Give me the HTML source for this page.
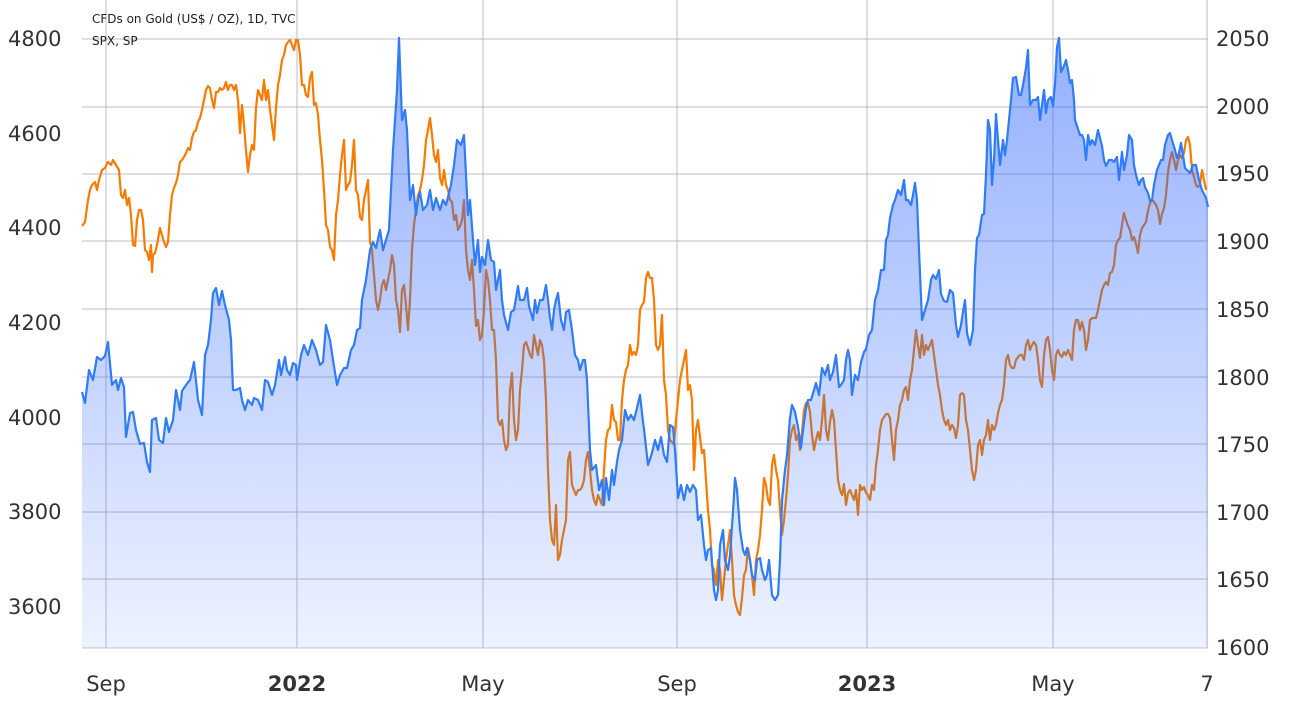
<!DOCTYPE html>
<html><head><meta charset="utf-8"><style>
body{margin:0;background:#fff;}
svg{display:block;font-family:"DejaVu Sans","Liberation Sans",sans-serif;}
</style></head><body>
<svg width="1304" height="710" viewBox="0 0 1304 710" xmlns="http://www.w3.org/2000/svg">
<defs>
<linearGradient id="ga" x1="0" y1="38" x2="0" y2="648" gradientUnits="userSpaceOnUse">
<stop offset="0" stop-color="#2962ff" stop-opacity="0.5"/>
<stop offset="1" stop-color="#2962ff" stop-opacity="0.08"/>
</linearGradient>
</defs>
<g stroke="#bcbcc2" stroke-width="1">
<line x1="82" y1="39" x2="1208" y2="39"/><line x1="82" y1="107" x2="1208" y2="107"/><line x1="82" y1="174" x2="1208" y2="174"/><line x1="82" y1="241" x2="1208" y2="241"/><line x1="82" y1="309" x2="1208" y2="309"/><line x1="82" y1="377" x2="1208" y2="377"/><line x1="82" y1="444" x2="1208" y2="444"/><line x1="82" y1="512" x2="1208" y2="512"/><line x1="82" y1="579" x2="1208" y2="579"/>
<line x1="106" y1="0" x2="106" y2="648"/><line x1="297" y1="0" x2="297" y2="648"/><line x1="483" y1="0" x2="483" y2="648"/><line x1="677" y1="0" x2="677" y2="648"/><line x1="867" y1="0" x2="867" y2="648"/><line x1="1053" y1="0" x2="1053" y2="648"/><line x1="1207" y1="0" x2="1207" y2="648"/>
</g>
<line x1="82" y1="648" x2="1208" y2="648" stroke="#c8c8cc"/>
<polyline fill="none" stroke="#f57c00" stroke-width="2.2" stroke-linejoin="round" points="82,226 85,222 88,200 90,190 92,185 95,182 97,190 99,180 102,170 105,168 108,162 111,165 113,160 116,165 119,170 121,195 123,198 125,190 127,205 129,198 131,215 133,245 135,246 137,220 139,210 141,210 143,220 145,250 147,252 149,260 151,245 152,272 153,255 155,253 157,245 160,228 162,235 164,242 166,247 168,242 170,215 172,195 174,188 176,183 178,175 180,162 182,160 184,157 186,153 188,148 190,150 192,138 194,132 196,130 198,122 200,118 202,110 204,100 206,90 208,86 210,88 212,100 214,108 216,92 218,92 220,88 222,90 224,88 226,82 228,90 230,85 232,85 234,90 236,85 238,100 240,133 242,105 244,125 246,150 248,172 250,155 252,145 254,150 256,108 258,90 260,95 262,100 264,80 266,100 268,90 270,110 272,125 274,140 276,108 278,85 280,75 282,60 284,55 286,45 288,42 290,40 292,45 294,50 296,40 298,40 300,55 302,85 304,85 306,95 308,97 310,78 312,72 314,105 316,103 318,115 320,140 322,160 324,190 326,225 328,230 330,247 332,250 334,260 336,215 338,200 340,175 342,155 344,140 346,190 348,185 350,182 352,165 354,140 356,190 358,195 360,217 362,220 364,200 366,190 368,180 370,242 372,250 374,275 376,300 378,310 380,300 382,285 384,280 386,290 388,280 390,270 392,255 394,265 396,300 398,310 400,332 402,290 404,285 406,305 408,330 410,300 412,250 414,225 416,210 418,195 420,190 422,180 424,165 426,140 428,130 430,118 432,135 434,155 436,162 438,150 440,178 442,185 444,170 446,185 448,190 450,200 452,202 454,220 456,215 458,230 460,226 462,220 464,200 466,250 468,270 470,280 472,260 474,290 476,326 478,320 480,340 482,335 484,310 486,270 488,280 490,300 492,330 494,330 496,360 498,420 500,425 502,420 504,440 506,450 508,445 510,390 512,373 514,420 516,440 518,430 520,390 522,370 524,345 526,342 528,348 530,355 532,358 534,335 536,345 538,355 540,340 542,345 544,360 546,400 548,470 550,520 552,540 554,545 556,505 558,560 560,555 562,540 564,530 566,520 568,460 570,452 572,485 574,490 576,495 578,490 580,490 582,487 584,480 586,460 588,452 590,470 592,490 594,500 596,505 598,495 600,500 602,505 604,470 606,440 608,430 610,428 612,405 614,420 616,422 618,440 620,440 622,400 624,380 626,370 628,365 630,345 632,355 634,352 636,355 638,345 640,310 642,305 644,302 646,278 648,272 650,278 652,278 654,300 656,345 658,350 660,345 662,315 664,380 666,395 668,430 670,440 672,442 674,445 676,420 678,400 680,380 682,370 684,360 686,350 688,390 690,385 692,400 694,470 696,430 698,420 700,437 702,453 704,450 706,480 708,510 710,530 712,565 714,570 716,585 718,560 720,570 722,600 724,580 726,560 728,545 730,530 732,560 734,595 736,605 738,612 740,615 742,598 744,575 746,570 748,548 750,560 752,575 754,595 756,560 758,550 760,535 762,510 764,478 766,485 768,500 770,505 772,465 774,455 776,470 778,480 780,510 782,535 784,520 786,500 788,475 790,440 792,430 794,425 796,440 798,435 800,450 802,432 804,410 806,403 808,403 810,412 812,435 814,450 816,440 818,432 820,440 822,420 824,395 826,430 828,440 830,422 832,410 834,420 836,450 838,480 840,490 842,495 844,484 846,505 848,493 850,490 852,495 854,500 856,490 858,515 860,485 862,490 864,487 866,493 868,495 870,500 872,485 874,490 876,465 878,450 880,430 882,420 884,417 886,414 888,414 890,418 892,440 894,460 896,430 898,420 900,405 902,400 904,390 906,387 908,400 910,380 912,370 914,350 916,330 918,345 920,358 922,335 924,355 926,345 928,350 930,345 932,340 934,355 936,370 938,385 940,395 942,410 944,420 946,425 948,420 950,430 952,425 954,428 956,438 958,425 960,395 962,393 964,395 966,420 968,430 970,450 972,470 974,480 976,470 978,445 980,440 982,455 984,440 986,435 988,420 990,440 992,425 994,430 996,425 998,413 1000,405 1002,400 1004,385 1006,360 1008,355 1010,365 1012,368 1014,368 1016,360 1018,357 1020,355 1022,355 1024,360 1026,345 1028,340 1030,350 1032,345 1034,342 1036,345 1038,360 1040,380 1042,387 1044,355 1046,340 1048,337 1050,350 1052,370 1054,380 1056,355 1058,350 1060,355 1062,357 1064,352 1066,355 1068,350 1070,355 1072,360 1074,330 1076,320 1078,320 1080,330 1082,322 1084,330 1086,350 1088,340 1090,320 1092,318 1094,318 1096,318 1098,310 1100,300 1102,290 1104,285 1106,282 1108,285 1110,273 1112,272 1114,265 1116,245 1118,240 1120,238 1122,225 1124,213 1126,220 1128,226 1130,230 1132,240 1134,237 1136,244 1138,253 1140,235 1142,228 1144,225 1146,222 1148,211 1150,203 1152,200 1154,202 1156,205 1158,210 1160,224 1162,214 1164,208 1166,195 1168,172 1170,160 1172,152 1174,160 1176,170 1178,160 1180,155 1182,158 1184,153 1186,140 1188,137 1190,145 1192,170 1194,177 1196,185 1198,187 1200,185 1202,170 1204,180 1206,190"/>
<path fill="url(#ga)" stroke="none" d="M82,392 L85,403 89,370 93,380 97,357 101,360 105,356 108,342 112,385 116,380 118,390 121,378 124,387 126,437 130,413 133,412 136,430 140,444 144,443 147,462 150,472 152,420 156,418 159,440 163,443 166,418 169,432 173,420 176,390 180,410 182,391 186,385 190,380 194,362 198,400 202,415 205,355 208,345 211,320 213,293 216,288 219,305 222,291 225,305 229,320 231,340 233,390 236,390 240,388 242,400 245,410 248,400 252,405 254,398 258,400 262,410 265,380 268,382 272,395 275,385 279,360 281,375 285,357 287,370 290,375 293,363 296,365 297,380 301,355 304,345 308,355 312,340 316,350 320,365 323,362 326,325 330,340 333,360 337,385 340,375 344,368 347,368 351,350 354,345 357,330 360,328 362,300 366,280 370,250 373,242 376,248 380,230 383,250 386,240 389,230 393,150 397,90 399,38 402,120 405,110 407,130 410,200 413,185 416,215 418,200 420,192 423,210 427,205 430,190 433,210 436,198 440,210 443,200 446,205 451,185 454,165 457,140 461,145 464,135 466,175 468,215 470,200 473,240 475,265 478,240 480,272 482,257 485,265 488,240 491,260 494,262 496,290 500,270 502,300 504,315 508,330 511,312 514,310 516,298 518,286 520,300 524,300 527,288 529,306 533,320 535,300 537,313 540,300 543,300 546,285 548,300 550,318 552,330 554,310 556,300 558,293 561,320 564,330 566,312 569,310 572,330 575,355 578,360 580,370 583,360 585,360 587,380 590,450 592,470 596,465 599,490 602,480 604,505 606,478 609,500 612,470 614,485 617,462 619,450 622,440 625,410 628,420 631,415 634,420 637,408 640,395 642,413 645,438 648,465 652,453 655,440 658,450 661,437 664,455 667,462 670,425 673,427 675,450 678,498 681,485 684,500 687,485 690,492 693,485 696,490 698,520 701,515 704,545 706,560 708,550 711,548 714,590 716,600 718,590 720,545 723,530 725,560 728,570 730,555 733,512 735,478 737,490 740,530 743,550 745,555 747,548 750,560 752,575 755,580 757,560 760,558 762,570 765,580 767,575 769,560 772,595 775,600 778,595 780,560 782,500 785,470 787,455 790,418 792,405 795,412 798,427 801,448 803,430 806,408 808,400 811,400 814,390 816,383 819,395 822,368 825,375 828,365 830,380 833,372 836,355 839,387 841,385 844,380 846,360 848,350 850,360 852,395 855,375 858,380 861,362 864,352 866,349 869,335 872,330 875,300 878,290 881,270 884,270 886,240 888,235 890,218 893,205 895,200 898,190 901,195 904,180 906,200 908,200 911,205 913,195 915,183 917,200 919,250 922,320 925,310 928,300 931,280 933,275 936,279 939,270 941,294 944,301 947,302 950,290 953,293 956,325 958,337 961,325 963,312 965,300 967,333 970,345 973,330 975,270 977,238 979,235 982,215 984,214 986,175 988,120 990,130 992,185 994,160 996,114 998,140 1000,165 1003,140 1005,155 1007,140 1009,120 1011,100 1013,78 1016,77 1019,95 1021,95 1023,85 1026,68 1028,50 1030,105 1033,100 1036,100 1038,97 1040,120 1042,105 1044,90 1046,113 1048,100 1051,97 1053,106 1055,84 1057,47 1059,38 1061,72 1064,66 1066,60 1068,70 1070,83 1072,80 1074,100 1075,120 1077,126 1080,135 1082,135 1084,140 1086,160 1088,135 1090,145 1092,140 1095,145 1098,130 1100,138 1102,146 1104,160 1106,166 1109,160 1112,160 1114,162 1117,157 1119,180 1122,152 1124,170 1127,155 1129,135 1132,140 1134,165 1136,175 1139,185 1141,180 1143,178 1145,187 1148,193 1150,201 1152,200 1154,185 1157,170 1159,165 1161,160 1163,160 1165,145 1168,135 1170,133 1172,140 1175,150 1177,158 1179,153 1181,143 1183,155 1185,168 1187,170 1190,173 1193,165 1196,165 1199,180 1202,190 1206,198 1208,207 L1208,648 L82,648 Z"/>
<polyline fill="none" stroke="#2f7cf6" stroke-width="2.2" stroke-linejoin="round" points="82,392 85,403 89,370 93,380 97,357 101,360 105,356 108,342 112,385 116,380 118,390 121,378 124,387 126,437 130,413 133,412 136,430 140,444 144,443 147,462 150,472 152,420 156,418 159,440 163,443 166,418 169,432 173,420 176,390 180,410 182,391 186,385 190,380 194,362 198,400 202,415 205,355 208,345 211,320 213,293 216,288 219,305 222,291 225,305 229,320 231,340 233,390 236,390 240,388 242,400 245,410 248,400 252,405 254,398 258,400 262,410 265,380 268,382 272,395 275,385 279,360 281,375 285,357 287,370 290,375 293,363 296,365 297,380 301,355 304,345 308,355 312,340 316,350 320,365 323,362 326,325 330,340 333,360 337,385 340,375 344,368 347,368 351,350 354,345 357,330 360,328 362,300 366,280 370,250 373,242 376,248 380,230 383,250 386,240 389,230 393,150 397,90 399,38 402,120 405,110 407,130 410,200 413,185 416,215 418,200 420,192 423,210 427,205 430,190 433,210 436,198 440,210 443,200 446,205 451,185 454,165 457,140 461,145 464,135 466,175 468,215 470,200 473,240 475,265 478,240 480,272 482,257 485,265 488,240 491,260 494,262 496,290 500,270 502,300 504,315 508,330 511,312 514,310 516,298 518,286 520,300 524,300 527,288 529,306 533,320 535,300 537,313 540,300 543,300 546,285 548,300 550,318 552,330 554,310 556,300 558,293 561,320 564,330 566,312 569,310 572,330 575,355 578,360 580,370 583,360 585,360 587,380 590,450 592,470 596,465 599,490 602,480 604,505 606,478 609,500 612,470 614,485 617,462 619,450 622,440 625,410 628,420 631,415 634,420 637,408 640,395 642,413 645,438 648,465 652,453 655,440 658,450 661,437 664,455 667,462 670,425 673,427 675,450 678,498 681,485 684,500 687,485 690,492 693,485 696,490 698,520 701,515 704,545 706,560 708,550 711,548 714,590 716,600 718,590 720,545 723,530 725,560 728,570 730,555 733,512 735,478 737,490 740,530 743,550 745,555 747,548 750,560 752,575 755,580 757,560 760,558 762,570 765,580 767,575 769,560 772,595 775,600 778,595 780,560 782,500 785,470 787,455 790,418 792,405 795,412 798,427 801,448 803,430 806,408 808,400 811,400 814,390 816,383 819,395 822,368 825,375 828,365 830,380 833,372 836,355 839,387 841,385 844,380 846,360 848,350 850,360 852,395 855,375 858,380 861,362 864,352 866,349 869,335 872,330 875,300 878,290 881,270 884,270 886,240 888,235 890,218 893,205 895,200 898,190 901,195 904,180 906,200 908,200 911,205 913,195 915,183 917,200 919,250 922,320 925,310 928,300 931,280 933,275 936,279 939,270 941,294 944,301 947,302 950,290 953,293 956,325 958,337 961,325 963,312 965,300 967,333 970,345 973,330 975,270 977,238 979,235 982,215 984,214 986,175 988,120 990,130 992,185 994,160 996,114 998,140 1000,165 1003,140 1005,155 1007,140 1009,120 1011,100 1013,78 1016,77 1019,95 1021,95 1023,85 1026,68 1028,50 1030,105 1033,100 1036,100 1038,97 1040,120 1042,105 1044,90 1046,113 1048,100 1051,97 1053,106 1055,84 1057,47 1059,38 1061,72 1064,66 1066,60 1068,70 1070,83 1072,80 1074,100 1075,120 1077,126 1080,135 1082,135 1084,140 1086,160 1088,135 1090,145 1092,140 1095,145 1098,130 1100,138 1102,146 1104,160 1106,166 1109,160 1112,160 1114,162 1117,157 1119,180 1122,152 1124,170 1127,155 1129,135 1132,140 1134,165 1136,175 1139,185 1141,180 1143,178 1145,187 1148,193 1150,201 1152,200 1154,185 1157,170 1159,165 1161,160 1163,160 1165,145 1168,135 1170,133 1172,140 1175,150 1177,158 1179,153 1181,143 1183,155 1185,168 1187,170 1190,173 1193,165 1196,165 1199,180 1202,190 1206,198 1208,207"/>
<g fill="#222" font-size="12">
<text x="92" y="23">CFDs on Gold (US$ / OZ), 1D, TVC</text>
<text x="92" y="45">SPX, SP</text>
</g>
<g fill="#333" font-size="21">
<text x="8" y="46">4800</text><text x="8" y="141">4600</text><text x="8" y="235">4400</text><text x="8" y="330">4200</text><text x="8" y="425">4000</text><text x="8" y="519">3800</text><text x="8" y="614">3600</text>
<text x="1216" y="46">2050</text><text x="1216" y="114">2000</text><text x="1216" y="181">1950</text><text x="1216" y="249">1900</text><text x="1216" y="317">1850</text><text x="1216" y="385">1800</text><text x="1216" y="452">1750</text><text x="1216" y="520">1700</text><text x="1216" y="587">1650</text><text x="1216" y="655">1600</text>
</g>
<g fill="#333" font-size="21" text-anchor="middle">
<text x="106" y="691">Sep</text><text x="297" y="691" font-weight="bold">2022</text><text x="483" y="691">May</text><text x="677" y="691">Sep</text><text x="867" y="691" font-weight="bold">2023</text><text x="1053" y="691">May</text><text x="1207" y="691">7</text>
</g>
</svg>
</body></html>
